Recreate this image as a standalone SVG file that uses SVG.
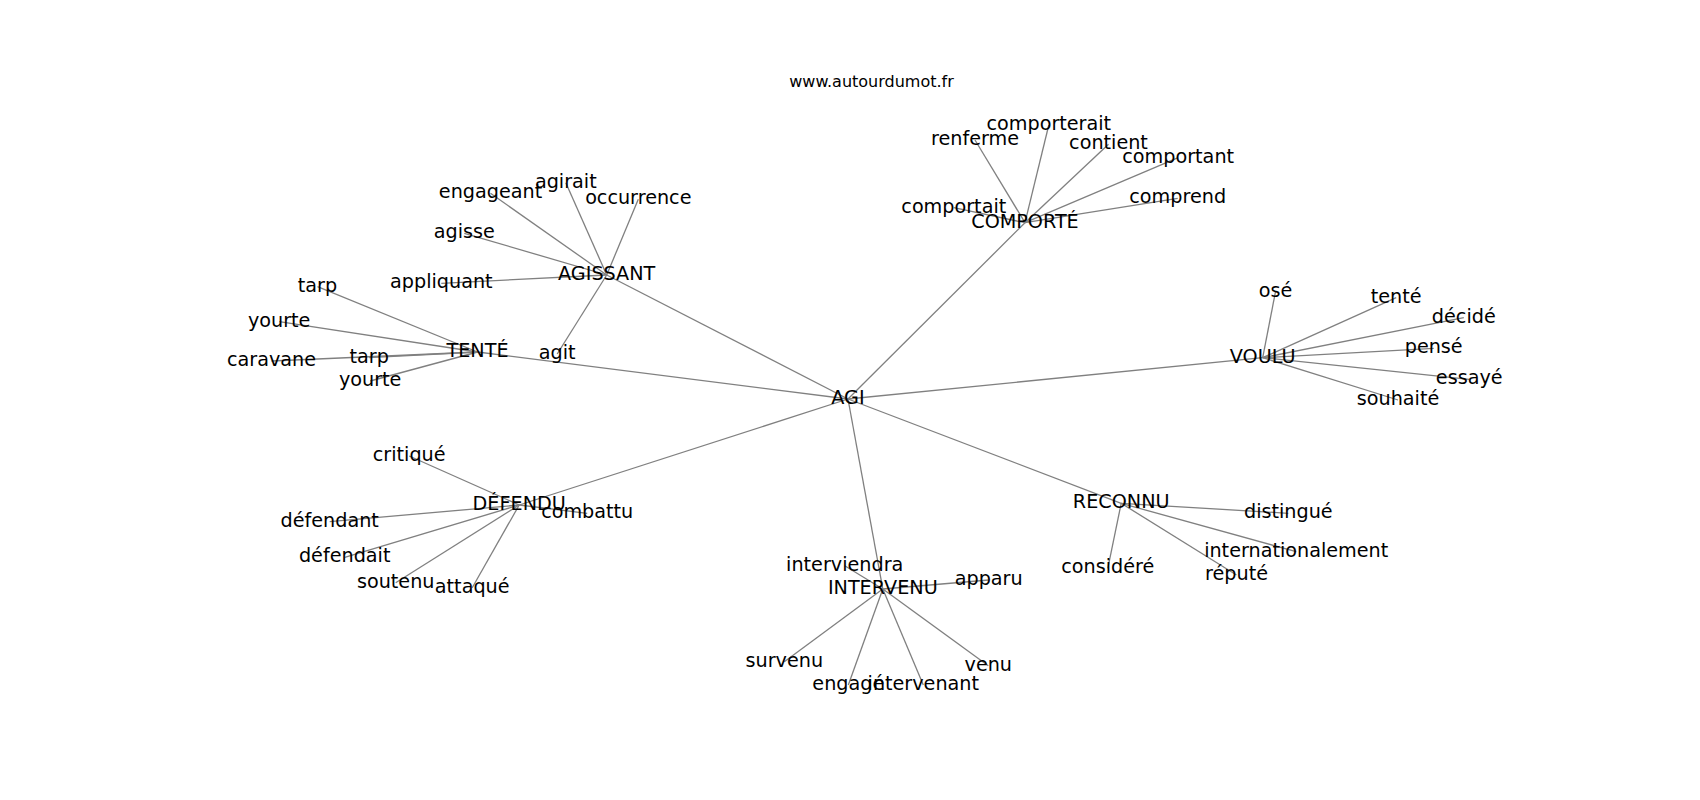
<svg xmlns="http://www.w3.org/2000/svg" width="1700" height="800" viewBox="0 0 1700 800">
<style>
.e{stroke:#808080;stroke-width:1.3;fill:none}
.n text{font-family:"DejaVu Sans",sans-serif;font-size:19.2px;fill:#000;text-anchor:middle}
.t{font-family:"DejaVu Sans",sans-serif;font-size:16px;fill:#000;text-anchor:middle}
</style>
<rect width="1700" height="800" fill="#fff"/>
<text class="t" x="871.5" y="87.3">www.autourdumot.fr</text>
<g id="edges">
<line class="e" x1="848" y1="399" x2="606.7" y2="275"/>
<line class="e" x1="848" y1="399" x2="477.5" y2="352"/>
<line class="e" x1="848" y1="399" x2="1025" y2="222.7"/>
<line class="e" x1="848" y1="399" x2="1262.7" y2="357.7"/>
<line class="e" x1="848" y1="399" x2="519.2" y2="505"/>
<line class="e" x1="848" y1="399" x2="882.8" y2="589"/>
<line class="e" x1="848" y1="399" x2="1121.2" y2="503.3"/>
<line class="e" x1="606.7" y1="275" x2="490.5" y2="193.3"/>
<line class="e" x1="606.7" y1="275" x2="565.8" y2="182.7"/>
<line class="e" x1="606.7" y1="275" x2="638.3" y2="199.3"/>
<line class="e" x1="606.7" y1="275" x2="464.3" y2="233.3"/>
<line class="e" x1="606.7" y1="275" x2="441.3" y2="283.3"/>
<line class="e" x1="606.7" y1="275" x2="557.2" y2="354"/>
<line class="e" x1="477.5" y1="352" x2="317.5" y2="286.7"/>
<line class="e" x1="477.5" y1="352" x2="279.2" y2="321.7"/>
<line class="e" x1="477.5" y1="352" x2="271.5" y2="361"/>
<line class="e" x1="477.5" y1="352" x2="369.2" y2="357.7"/>
<line class="e" x1="477.5" y1="352" x2="370.2" y2="381"/>
<line class="e" x1="1025" y1="222.7" x2="1048.8" y2="125"/>
<line class="e" x1="1025" y1="222.7" x2="975" y2="140"/>
<line class="e" x1="1025" y1="222.7" x2="1108.5" y2="144.3"/>
<line class="e" x1="1025" y1="222.7" x2="1178.2" y2="157.7"/>
<line class="e" x1="1025" y1="222.7" x2="1177.7" y2="198.3"/>
<line class="e" x1="1025" y1="222.7" x2="953.8" y2="207.7"/>
<line class="e" x1="1262.7" y1="357.7" x2="1275.5" y2="291.7"/>
<line class="e" x1="1262.7" y1="357.7" x2="1396.2" y2="297.7"/>
<line class="e" x1="1262.7" y1="357.7" x2="1463.8" y2="317.7"/>
<line class="e" x1="1262.7" y1="357.7" x2="1433.7" y2="348.3"/>
<line class="e" x1="1262.7" y1="357.7" x2="1469.2" y2="379.3"/>
<line class="e" x1="1262.7" y1="357.7" x2="1398" y2="400"/>
<line class="e" x1="519.2" y1="505" x2="409.2" y2="456"/>
<line class="e" x1="519.2" y1="505" x2="587.2" y2="513.3"/>
<line class="e" x1="519.2" y1="505" x2="329.7" y2="521.7"/>
<line class="e" x1="519.2" y1="505" x2="344.7" y2="557.3"/>
<line class="e" x1="519.2" y1="505" x2="395.7" y2="582.7"/>
<line class="e" x1="519.2" y1="505" x2="472.2" y2="587.7"/>
<line class="e" x1="882.8" y1="589" x2="844.7" y2="565.7"/>
<line class="e" x1="882.8" y1="589" x2="988.7" y2="580"/>
<line class="e" x1="882.8" y1="589" x2="784.3" y2="661.7"/>
<line class="e" x1="882.8" y1="589" x2="848.3" y2="685"/>
<line class="e" x1="882.8" y1="589" x2="923.3" y2="685"/>
<line class="e" x1="882.8" y1="589" x2="988.3" y2="665.7"/>
<line class="e" x1="1121.2" y1="503.3" x2="1288.3" y2="513.3"/>
<line class="e" x1="1121.2" y1="503.3" x2="1296.2" y2="551.7"/>
<line class="e" x1="1121.2" y1="503.3" x2="1236.5" y2="575"/>
<line class="e" x1="1121.2" y1="503.3" x2="1107.8" y2="568.3"/>
</g>
<g class="n">
<g id="n-agi"><text x="848" y="404">AGI</text></g>
<g id="n-agissant"><text x="606.7" y="280">AGISSANT</text></g>
<g id="n-tente-hub"><text x="477.5" y="357">TENTÉ</text></g>
<g id="n-comporte"><text x="1025" y="227.7">COMPORTÉ</text></g>
<g id="n-voulu"><text x="1262.7" y="362.7">VOULU</text></g>
<g id="n-defendu"><text x="519.2" y="510">DÉFENDU</text></g>
<g id="n-intervenu"><text x="882.8" y="594">INTERVENU</text></g>
<g id="n-reconnu"><text x="1121.2" y="508.3">RECONNU</text></g>
<g id="n-engageant"><text x="490.5" y="198.3">engageant</text></g>
<g id="n-agirait"><text x="565.8" y="187.7">agirait</text></g>
<g id="n-occurrence"><text x="638.3" y="204.3">occurrence</text></g>
<g id="n-agisse"><text x="464.3" y="238.3">agisse</text></g>
<g id="n-appliquant"><text x="441.3" y="288.3">appliquant</text></g>
<g id="n-agit"><text x="557.2" y="359">agit</text></g>
<g id="n-tarp1"><text x="317.5" y="291.7">tarp</text></g>
<g id="n-yourte1"><text x="279.2" y="326.7">yourte</text></g>
<g id="n-caravane"><text x="271.5" y="366">caravane</text></g>
<g id="n-tarp2"><text x="369.2" y="362.7">tarp</text></g>
<g id="n-yourte2"><text x="370.2" y="386">yourte</text></g>
<g id="n-comporterait"><text x="1048.8" y="130">comporterait</text></g>
<g id="n-renferme"><text x="975" y="145">renferme</text></g>
<g id="n-contient"><text x="1108.5" y="149.3">contient</text></g>
<g id="n-comportant"><text x="1178.2" y="162.7">comportant</text></g>
<g id="n-comprend"><text x="1177.7" y="203.3">comprend</text></g>
<g id="n-comportait"><text x="953.8" y="212.7">comportait</text></g>
<g id="n-ose"><text x="1275.5" y="296.7">osé</text></g>
<g id="n-tente"><text x="1396.2" y="302.7">tenté</text></g>
<g id="n-decide"><text x="1463.8" y="322.7">décidé</text></g>
<g id="n-pense"><text x="1433.7" y="353.3">pensé</text></g>
<g id="n-essaye"><text x="1469.2" y="384.3">essayé</text></g>
<g id="n-souhaite"><text x="1398" y="405">souhaité</text></g>
<g id="n-critique"><text x="409.2" y="461">critiqué</text></g>
<g id="n-combattu"><text x="587.2" y="518.3">combattu</text></g>
<g id="n-defendant"><text x="329.7" y="526.7">défendant</text></g>
<g id="n-defendait"><text x="344.7" y="562.3">défendait</text></g>
<g id="n-soutenu"><text x="395.7" y="587.7">soutenu</text></g>
<g id="n-attaque"><text x="472.2" y="592.7">attaqué</text></g>
<g id="n-interviendra"><text x="844.7" y="570.7">interviendra</text></g>
<g id="n-apparu"><text x="988.7" y="585">apparu</text></g>
<g id="n-survenu"><text x="784.3" y="666.7">survenu</text></g>
<g id="n-engage"><text x="848.3" y="690">engagé</text></g>
<g id="n-intervenant"><text x="923.3" y="690">intervenant</text></g>
<g id="n-venu"><text x="988.3" y="670.7">venu</text></g>
<g id="n-distingue"><text x="1288.3" y="518.3">distingué</text></g>
<g id="n-internationalement"><text x="1296.2" y="556.7">internationalement</text></g>
<g id="n-repute"><text x="1236.5" y="580">réputé</text></g>
<g id="n-considere"><text x="1107.8" y="573.3">considéré</text></g>
</g>
</svg>
